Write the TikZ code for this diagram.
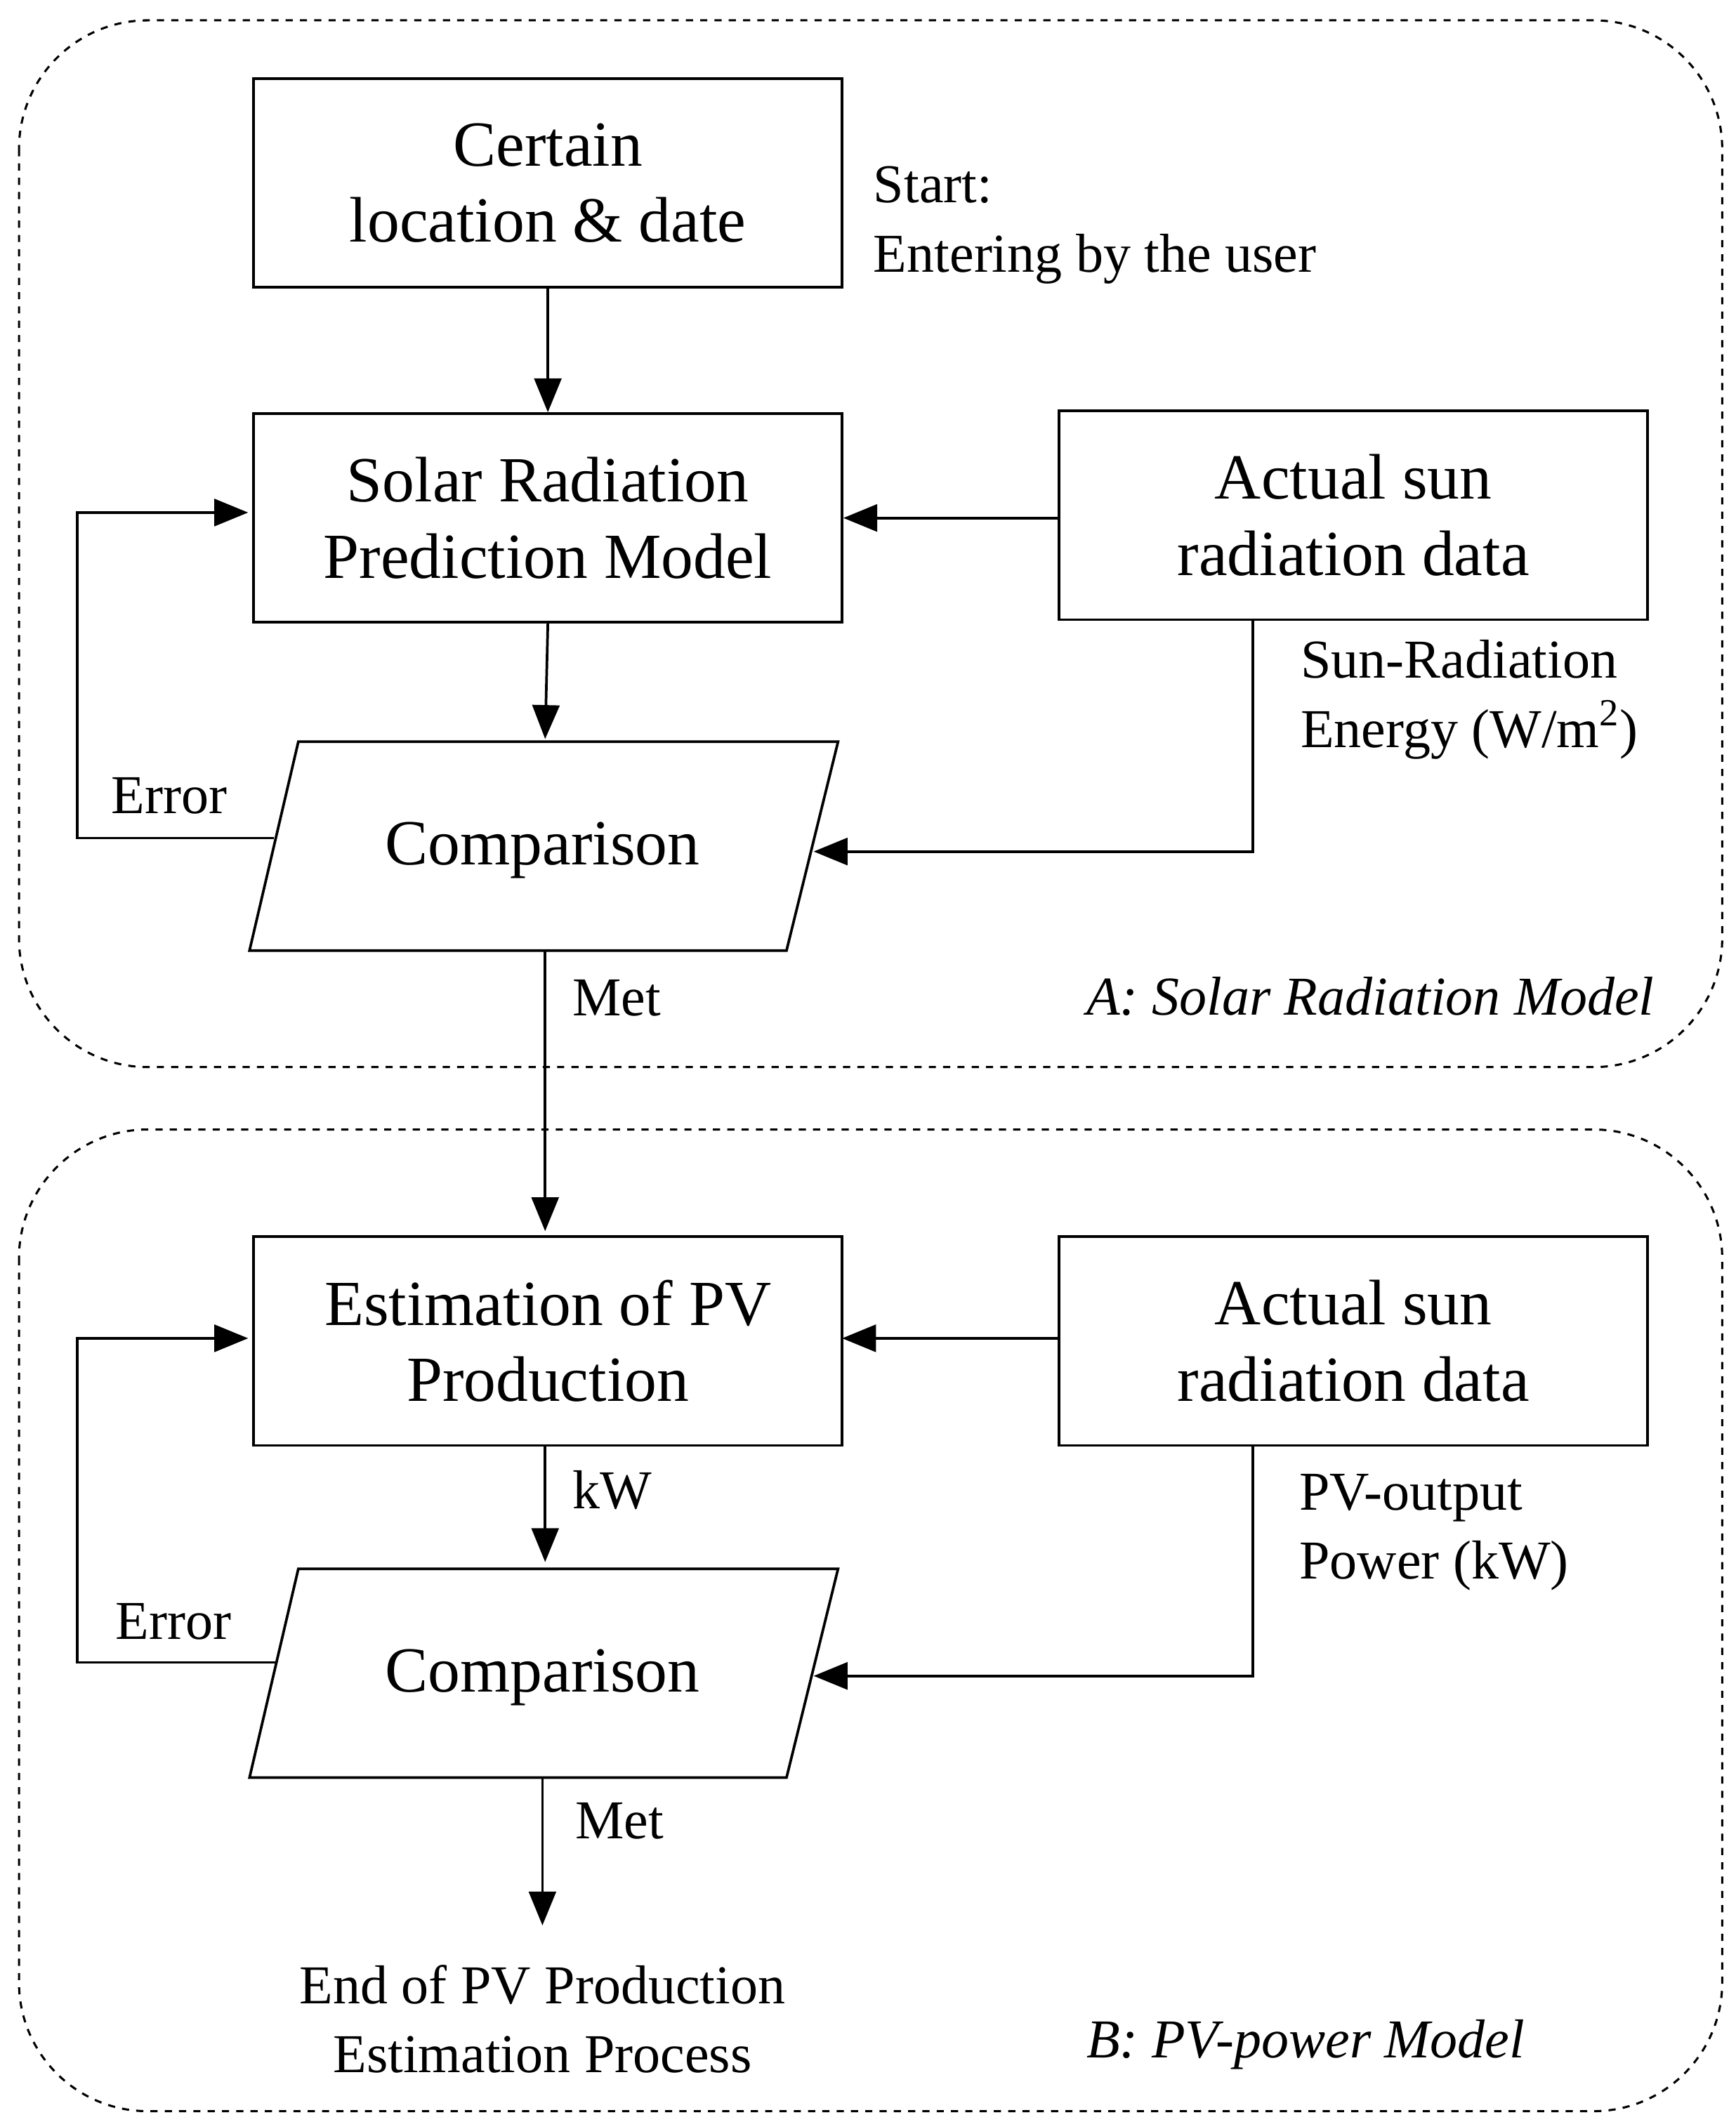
\documentclass[tikz,border=0pt]{standalone}
\usepackage{fontspec}
\setmainfont{Liberation Serif}
\usetikzlibrary{arrows.meta}
\begin{document}
\begin{tikzpicture}[x=0.02cm,y=-0.02cm,
  box/.style={draw,line width=1.1pt,minimum width=8.68cm,minimum height=3.08cm,align=center,font=\fontsize{27}{32}\selectfont},
  big/.style={font=\fontsize{27}{32}\selectfont},
  lab/.style={font=\fontsize{23}{29}\selectfont,align=left,anchor=west},
  arr/.style={line width=1.1pt,-{Triangle[length=0.5cm,width=0.4cm]}},
  ln/.style={line width=1.1pt},
  dbox/.style={draw,dashed,line width=0.9pt,rounded corners=1.9cm}]
\useasboundingbox (0,0) rectangle (1280,1565);
\draw[dbox] (14,15) rectangle (1270,787);
\draw[dbox] (14,833) rectangle (1270,1557);
% Part A
\node[box] (b1) at (404,135) {Certain\\location \& date};
\node[box] (b2) at (404,382) {Solar Radiation\\Prediction Model};
\node[box] (b3) at (998,380) {Actual sun\\radiation data};
\coordinate (c1a) at (220,547); \coordinate (c1b) at (618,547);
\coordinate (c1c) at (580,701); \coordinate (c1d) at (184,701);
\draw[ln] (c1a)--(c1b)--(c1c)--(c1d)--cycle;
\node[big] (c1) at (400,627) {Comparison};
\node[lab] (s1) at (638,166) {Start:\\Entering by the user};
\draw[arr] (b1.south) -- (b2.north);
\draw[arr] (b2.south) -- (402,545);
\draw[arr] (b3.west |- b2.east) -- (b2.east);
\coordinate (r1) at (924,628);
\draw[arr] (924,457) -- (r1) -- (600,628);
\node[lab] (e1) at (953,516) {Sun-Radiation\\Energy (W/m\textsuperscript{2})};
\coordinate (er1) at (57,618);
\draw[arr] (202,618) -- (er1) -- (57,378) -- (183,378);
\node[lab] (el1) at (76,587) {Error};
\draw[arr] (402,701) -- (402,908);
\node[lab] (m1) at (416,736) {Met};
\node[lab,font=\fontsize{23}{29}\selectfont\itshape] (A) at (795,735) {A: Solar Radiation Model};
% Part B
\node[box] (b4) at (404,989) {Estimation of PV\\Production};
\node[box] (b5) at (998,989) {Actual sun\\radiation data};
\coordinate (c2a) at (220,1157); \coordinate (c2b) at (618,1157);
\coordinate (c2c) at (580,1311); \coordinate (c2d) at (184,1311);
\draw[ln] (c2a)--(c2b)--(c2c)--(c2d)--cycle;
\node[big] (c2) at (400,1237) {Comparison};
\draw[arr] (b5.west |- 0,987) -- (621,987);
\draw[arr] (402,1066) -- (402,1152);
\node[lab] (kw) at (416,1099) {kW};
\draw[arr] (924,1066) -- (924,1236) -- (600,1236);
\node[lab] (e2) at (952,1130) {PV-output\\Power (kW)};
\draw[arr] (204,1226) -- (57,1226) -- (57,987) -- (183,987);
\node[lab] (el2) at (79,1196) {Error};
\coordinate (end) at (400,1420);
\draw[arr] (400,1311) -- (end);
\node[lab] (m2) at (418,1343) {Met};
\node[font=\fontsize{23}{29}\selectfont,align=center] (E) at (400,1489) {End of PV Production\\Estimation Process};
\node[lab,font=\fontsize{23}{29}\selectfont\itshape] (B) at (795,1508) {B: PV-power Model};
\end{tikzpicture}
\end{document}
